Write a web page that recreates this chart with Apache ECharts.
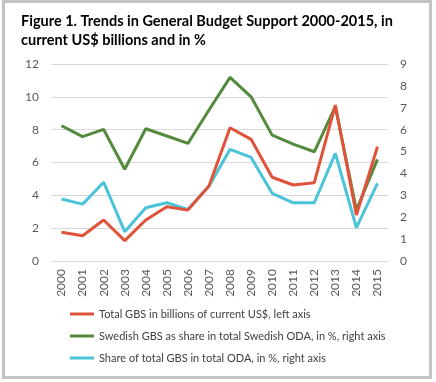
<!DOCTYPE html>
<html><head><meta charset="utf-8">
<script src="https://cdn.jsdelivr.net/npm/echarts@6/dist/echarts.min.js"></script>
<style>
html,body{margin:0;padding:0;background:#fff;}
#frame{position:absolute;left:2px;top:0;width:424px;height:373px;border:3px solid #c3c3c3;}
#c{position:absolute;left:0;top:0;width:436px;height:382px;}
</style></head>
<body><div id="frame"></div><div id="c"></div>
<script>
const years = ['2000','2001','2002','2003','2004','2005','2006','2007','2008','2009','2010','2011','2012','2013','2014','2015'];
const totalGBS = [1.75,1.54,2.5,1.24,2.5,3.3,3.1,4.57,8.12,7.41,5.1,4.63,4.77,9.5,2.8,6.96];
const swedishShare = [6.18,5.68,6.01,4.19,6.04,5.71,5.37,6.9,8.39,7.5,5.75,5.34,4.99,7.05,2.33,4.64];
const totalShare = [2.83,2.6,3.6,1.34,2.43,2.66,2.36,3.42,5.1,4.73,3.09,2.66,2.66,4.92,1.52,3.55];
const leftTicks = [0,12,2];
const rightTicks = [0,9,1];
const names = ['Total GBS in billions of current US$, left axis','Swedish GBS as share in total Swedish ODA, in %, right axis','Share of total GBS in total ODA, in %, right axis'];
const colors = ['#E0533B','#548A3E','#4BC4D9'];
const font = 'Lato, "Open Sans", sans-serif';
const chart = echarts.init(document.getElementById('c'));
function line(i, data, axis){
  return {name:names[i], type:'line', data:data, yAxisIndex:axis, symbol:'none', smooth:false,
    lineStyle:{color:colors[i], width:3}, itemStyle:{color:colors[i]}, z: 10-i};
}
chart.setOption({
  animation:false,
  textStyle:{fontFamily:font},
  title:{text:'Figure 1. Trends in General Budget Support 2000-2015, in\ncurrent US$ billions and in %', left:16, top:7,
    textStyle:{fontFamily:font, fontSize:14.5, fontWeight:'bold', color:'#000', lineHeight:19}},
  grid:{left:51, right:48, top:64, bottom:121, containLabel:false},
  legend:{orient:'vertical', left:65, top:302, itemWidth:24, itemHeight:3, itemGap:8, icon:'rect',
    textStyle:{fontFamily:font, fontSize:11, color:'#404040', lineHeight:14},
    data:names},
  xAxis:{type:'category', data:years, boundaryGap:true,
    axisLine:{lineStyle:{color:'#d9d9d9'}}, axisTick:{show:false},
    axisLabel:{rotate:90, color:'#595959', fontSize:12, margin:8, fontFamily:font}},
  yAxis:[
    {type:'value', min:leftTicks[0], max:leftTicks[1], interval:leftTicks[2],
      axisLine:{show:false}, axisTick:{show:false},
      splitLine:{lineStyle:{color:'#d9d9d9'}},
      axisLabel:{color:'#595959', fontSize:12, margin:12, fontFamily:font}},
    {type:'value', min:rightTicks[0], max:rightTicks[1], interval:rightTicks[2],
      axisLine:{show:false}, axisTick:{show:false}, splitLine:{show:false},
      axisLabel:{color:'#595959', fontSize:12, margin:12, fontFamily:font}}
  ],
  series:[line(0,totalGBS,0), line(1,swedishShare,1), line(2,totalShare,1)]
});
</script></body></html>
